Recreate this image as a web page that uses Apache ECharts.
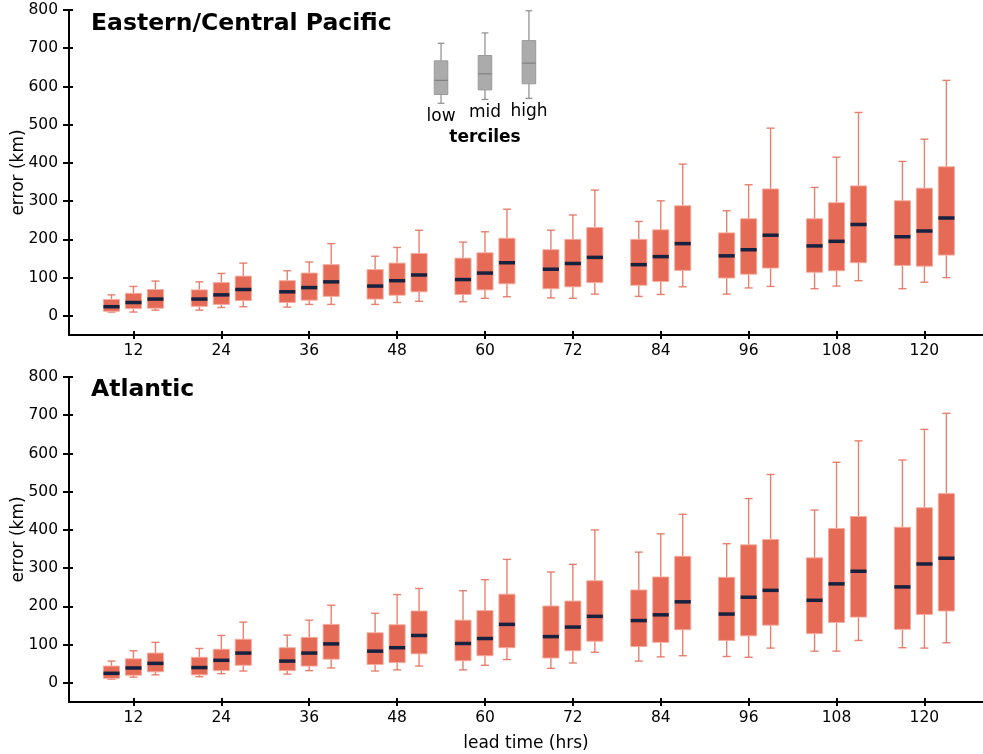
<!DOCTYPE html>
<html><head><meta charset="utf-8">
<script src="https://cdn.jsdelivr.net/npm/echarts@6/dist/echarts.min.js"></script>
<style>html,body{margin:0;padding:0;background:#fff}#c{width:983px;height:754px}</style>
</head><body><div id="c"></div>
<script>
// lead times (hrs)
const leadTimes = [12, 24, 36, 48, 60, 72, 84, 96, 108, 120];
const xTicks = [12, 24, 36, 48, 60, 72, 84, 96, 108, 120];
const yTicks = [0, 100, 200, 300, 400, 500, 600, 700, 800];

// Each entry: [lower whisker, Q1, median, Q3, upper whisker] (km)
// Eastern/Central Pacific
const epLow = [[10,12,24,43,55],[15,25,44,68,89],[23,35,63,92,118],[30,44,78,121,156],[37,56,95,151,193],[47,71,122,173,224],[51,80,134,200,247],[57,99,157,217,275],[71,114,183,254,336],[71,132,207,301,404]];
const epMid = [[10,19,35,59,77],[22,30,55,87,111],[30,41,74,112,141],[35,54,92,138,179],[46,68,112,165,220],[46,76,137,200,264],[56,90,155,225,301],[73,109,173,254,343],[78,118,195,296,415],[88,130,222,334,462]];
const epHigh = [[15,20,44,69,91],[24,40,69,104,138],[30,51,89,134,189],[38,63,107,163,224],[50,84,139,203,279],[57,87,153,231,329],[76,119,189,288,397],[77,125,211,332,491],[92,139,239,340,532],[100,159,256,390,616]];
// Atlantic
const alLow = [[10,12,25,44,57],[16,21,40,67,90],[23,32,57,92,125],[31,48,83,131,182],[34,58,103,164,241],[38,65,121,201,290],[57,95,163,243,342],[69,111,180,276,364],[83,129,216,327,452],[92,140,251,407,583]];
const alMid = [[15,20,39,63,84],[24,32,59,88,124],[32,44,78,119,164],[34,53,92,152,231],[46,71,116,189,270],[52,84,146,214,310],[68,106,178,277,390],[67,123,224,361,482],[83,158,259,404,577],[91,179,311,458,663]];
const alHigh = [[21,29,51,78,106],[31,46,78,114,159],[39,62,102,153,203],[44,76,124,188,247],[61,92,153,232,323],[80,109,174,267,400],[71,139,212,331,441],[91,151,242,375,545],[111,172,292,435,633],[105,188,326,495,705]];

// legend (terciles) boxes
const legendNames = ['low', 'mid', 'high'];
const legendX = [54, 60, 66];
const legendBoxes = [[556,579,616,667,713],[566,591,633,681,740],[569,607,661,720,798]];

const CORAL = '#e56b56';
const NAVY = '#16223f';

function makeRender(st) {
  return function (params, api) {
    const x = api.value(0);
    const lo = api.value(1), q1 = api.value(2), med = api.value(3), q3 = api.value(4), hi = api.value(5);
    const pLo = api.coord([x, lo]), pQ1 = api.coord([x, q1]), pMed = api.coord([x, med]);
    const pQ3 = api.coord([x, q3]), pHi = api.coord([x, hi]);
    const w = api.size([st.boxW, 0])[0];
    const cx = pMed[0], hw = w / 2, cw = w * 0.25;
    const wl = {stroke: st.whisker, lineWidth: st.whiskerW};
    return {
      type: 'group',
      children: [
        {type: 'line', shape: {x1: cx, y1: pQ1[1], x2: cx, y2: pLo[1]}, style: wl},
        {type: 'line', shape: {x1: cx, y1: pQ3[1], x2: cx, y2: pHi[1]}, style: wl},
        {type: 'line', shape: {x1: cx - cw, y1: pLo[1], x2: cx + cw, y2: pLo[1]}, style: wl},
        {type: 'line', shape: {x1: cx - cw, y1: pHi[1], x2: cx + cw, y2: pHi[1]}, style: wl},
        {type: 'rect', shape: {x: cx - hw, y: pQ3[1], width: w, height: pQ1[1] - pQ3[1]},
          style: {fill: st.fill, stroke: st.edge, lineWidth: 1}},
        {type: 'line', shape: {x1: cx - hw, y1: pMed[1], x2: cx + hw, y2: pMed[1]},
          style: {stroke: st.median, lineWidth: st.medianW}}
      ]
    };
  };
}

const mainStyle = {boxW: 2.2, fill: CORAL, edge: 'rgba(245,170,155,0.9)', whisker: 'rgba(229,107,86,0.85)', whiskerW: 1.4, median: NAVY, medianW: 3.5};
const legStyle = {boxW: 1.85, fill: '#ababab', edge: '#9a9a9a', whisker: '#8c8c8c', whiskerW: 1.2, median: '#808080', medianW: 1.2};

function buildData(arr, off) {
  return leadTimes.map((t, i) => [t + off].concat(arr[i]));
}

const FONT = '"DejaVu Sans", sans-serif';
const grids = [
  {left: 69, right: 0, top: 10, height: 325, outerBoundsMode: 'none', containLabel: false},
  {left: 69, right: 0, top: 377, height: 325, outerBoundsMode: 'none', containLabel: false}
];

function xAxisPair(gi, withName) {
  const base = {
    type: 'value', gridIndex: gi, min: 3.2, max: 128, position: 'bottom', offset: 0,
    splitLine: {show: false},
    axisLine: {show: true, onZero: false, lineStyle: {color: '#000', width: 2}},
  };
  return [
    Object.assign({}, base, {
      axisTick: {show: true, inside: false, length: 4, lineStyle: {color: '#000', width: 2}, customValues: xTicks},
      axisLabel: {show: true, customValues: xTicks, color: '#000', fontFamily: FONT, fontSize: 15.5, margin: 8},
      name: withName ? 'lead time (hrs)' : '', nameLocation: 'middle', nameGap: 33, nameMoveOverlap: false,
      nameTextStyle: {color: '#000', fontFamily: FONT, fontSize: 17}
    }),
    Object.assign({}, base, {
      axisLine: {show: false, onZero: false},
      axisTick: {show: true, inside: true, length: 4, lineStyle: {color: '#000', width: 2}, customValues: xTicks},
      axisLabel: {show: false}
    })
  ];
}
function yAxisPair(gi) {
  const base = {
    type: 'value', gridIndex: gi, min: -50, max: 800, position: 'left', offset: 0,
    splitLine: {show: false},
    axisLine: {show: true, onZero: false, lineStyle: {color: '#000', width: 2}},
  };
  return [
    Object.assign({}, base, {
      axisTick: {show: true, inside: false, length: 6, lineStyle: {color: '#000', width: 2}, customValues: yTicks},
      axisLabel: {show: true, customValues: yTicks, color: '#000', fontFamily: FONT, fontSize: 15.5, margin: 11},
      name: 'error (km)', nameLocation: 'middle', nameGap: 42, nameRotate: 90, nameMoveOverlap: false,
      nameTextStyle: {color: '#000', fontFamily: FONT, fontSize: 17}
    }),
    Object.assign({}, base, {
      axisLine: {show: false, onZero: false},
      axisTick: {show: true, inside: true, length: 4, lineStyle: {color: '#000', width: 2}, customValues: yTicks},
      axisLabel: {show: false}
    })
  ];
}

const xAxes = xAxisPair(0, false).concat(xAxisPair(1, true));
const yAxes = yAxisPair(0).concat(yAxisPair(1));

function boxSeries(arr, off, xi, yi) {
  return {
    type: 'custom', xAxisIndex: xi, yAxisIndex: yi,
    renderItem: makeRender(mainStyle),
    encode: {x: 0, y: [1, 2, 3, 4, 5]},
    data: buildData(arr, off), silent: true, animation: false
  };
}

const series = [
  boxSeries(epLow, -3, 0, 0), boxSeries(epMid, 0, 0, 0), boxSeries(epHigh, 3, 0, 0),
  boxSeries(alLow, -3, 2, 2), boxSeries(alMid, 0, 2, 2), boxSeries(alHigh, 3, 2, 2),
  {
    type: 'custom', xAxisIndex: 0, yAxisIndex: 0,
    renderItem: function (params, api) {
      const g = makeRender(legStyle)(params, api);
      const p = api.coord([api.value(0), api.value(1)]);
      g.children.push({type: 'text', style: {text: legendNames[params.dataIndex], x: p[0], y: p[1] + 13,
        align: 'center', verticalAlign: 'middle', fill: '#000', font: '17px "DejaVu Sans", sans-serif'}});
      return g;
    },
    encode: {x: 0, y: [1, 2, 3, 4, 5]},
    data: legendX.map((x, i) => [x].concat(legendBoxes[i])), silent: true, animation: false
  }
];

const chart = echarts.init(document.getElementById('c'));
chart.setOption({
  animation: false,
  backgroundColor: '#fff',
  title: [
    {text: 'Eastern/Central Pacific', left: 91, top: 12, padding: 0, textStyle: {fontFamily: FONT, fontSize: 23.5, fontWeight: 'bold', color: '#000'}},
    {text: 'Atlantic', left: 91, top: 378, padding: 0, textStyle: {fontFamily: FONT, fontSize: 23.5, fontWeight: 'bold', color: '#000'}},
    {text: 'terciles', left: 485, top: 129, padding: 0, textAlign: 'center', textStyle: {fontFamily: FONT, fontSize: 17, fontWeight: 'bold', color: '#000'}}
  ],
  grid: grids,
  xAxis: xAxes,
  yAxis: yAxes,
  series: series
});
</script>
</body></html>
